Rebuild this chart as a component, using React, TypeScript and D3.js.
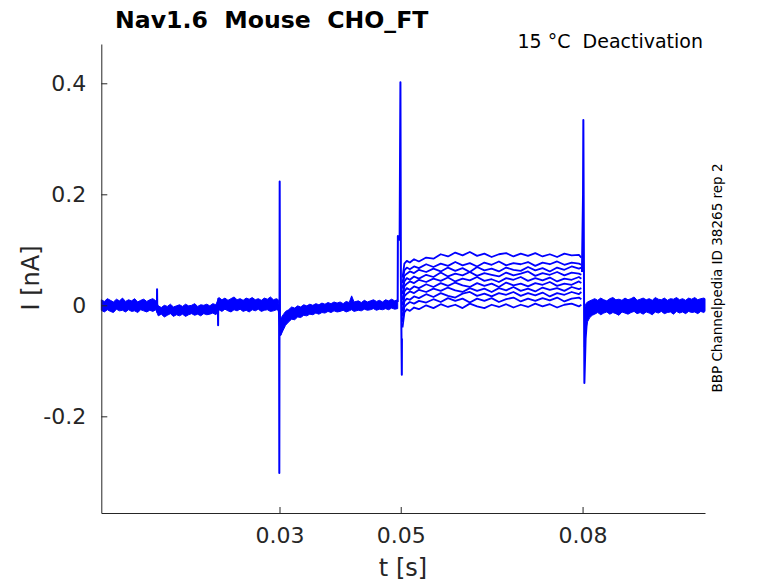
import React, { useEffect, useRef } from 'react';
import * as d3 from 'd3';

const W = 778;
const H = 583;
const X0 = 101.3;
const X1 = 705;
const Y0 = 44;
const Y1 = 513;
const BLUE = '#0000ff';
const INK = '#262626';
const FONT = '"DejaVu Sans", sans-serif';

const xTicks = [0.03, 0.05, 0.08];
const xTickLabels = ['0.03', '0.05', '0.08'];
const yTicks = [-0.2, 0, 0.2, 0.4];
const yTickLabels = ['-0.2', '0', '0.2', '0.4'];

// Noise band (envelope of all sweeps) before the 0.05 s step
const baseTimes = [
  0.0006, 0.0011, 0.0016, 0.0021, 0.0026, 0.0031, 0.0036, 0.0041, 0.0046, 0.0051, 0.0056, 0.0061,
  0.0066, 0.0071, 0.0076, 0.0081, 0.0086, 0.0091, 0.0096,
  0.0100, 0.0105, 0.0110, 0.0115, 0.0120, 0.0125, 0.0130, 0.0135, 0.0140, 0.0145, 0.0150, 0.0155,
  0.0160, 0.0165, 0.0170, 0.0175, 0.0180, 0.0185, 0.0190, 0.0195,
  0.0200, 0.0205, 0.0210, 0.0215, 0.0220, 0.0225, 0.0230, 0.0235, 0.0240, 0.0245, 0.0250, 0.0255,
  0.0260, 0.0265, 0.0270, 0.0275, 0.0280, 0.0285, 0.0290, 0.0295, 0.0298,
  0.0301, 0.0303, 0.0306, 0.0310, 0.0315, 0.0320, 0.0325, 0.0330, 0.0335, 0.0340, 0.0345, 0.0350,
  0.0355, 0.0360, 0.0365, 0.0370, 0.0375, 0.0380, 0.0385, 0.0390, 0.0395, 0.0400, 0.0405, 0.0410,
  0.0415, 0.0419, 0.0423, 0.0430, 0.0435, 0.0440, 0.0445, 0.0450, 0.0455, 0.0460, 0.0465, 0.0470,
  0.0475, 0.0480, 0.0485, 0.0490, 0.0495,
];
const baseUpper = [
  0.010, 0.007, 0.012, 0.009, 0.006, 0.011, 0.008, 0.013, 0.007, 0.010, 0.008, 0.012,
  0.006, 0.009, 0.011, 0.007, 0.010, 0.012, 0.008,
  -0.001, -0.004, 0.000, -0.002, 0.002, -0.003, -0.001, 0.001, -0.002, 0.002, -0.001, 0.000,
  0.003, -0.002, 0.001, 0.000, 0.002, -0.001, 0.003, 0.001,
  0.014, 0.010, 0.013, 0.009, 0.012, 0.015, 0.010, 0.012, 0.009, 0.013, 0.011, 0.014,
  0.010, 0.012, 0.009, 0.013, 0.011, 0.015, 0.010, 0.012, 0.010,
  -0.025, -0.022, -0.017, -0.011, -0.008, -0.003, -0.005, -0.001, -0.003, 0.001, -0.001, 0.002,
  0.000, 0.003, 0.001, 0.004, 0.002, 0.005, 0.003, 0.006, 0.004, 0.006, 0.003, 0.007,
  0.005, 0.017, 0.006, 0.008, 0.005, 0.009, 0.006, 0.008, 0.010, 0.007, 0.009, 0.006,
  0.010, 0.008, 0.011, 0.008, 0.010,
];
const baseLower = [
  -0.009, -0.012, -0.008, -0.011, -0.013, -0.007, -0.010, -0.009, -0.012, -0.008, -0.011, -0.010,
  -0.013, -0.008, -0.010, -0.012, -0.009, -0.011, -0.008,
  -0.019, -0.016, -0.021, -0.018, -0.015, -0.020, -0.017, -0.019, -0.016, -0.020, -0.017, -0.015,
  -0.018, -0.016, -0.019, -0.015, -0.017, -0.016, -0.014, -0.017,
  -0.008, -0.011, -0.007, -0.010, -0.012, -0.008, -0.010, -0.007, -0.011, -0.009, -0.012, -0.008,
  -0.010, -0.007, -0.011, -0.009, -0.008, -0.011, -0.010, -0.008, -0.009,
  -0.055, -0.052, -0.045, -0.036, -0.030, -0.025, -0.026, -0.021, -0.022, -0.018, -0.019, -0.016,
  -0.017, -0.014, -0.016, -0.013, -0.014, -0.011, -0.013, -0.010, -0.012, -0.011, -0.009, -0.012,
  -0.010, -0.008, -0.011, -0.009, -0.010, -0.007, -0.009, -0.008, -0.006, -0.009, -0.007, -0.008,
  -0.006, -0.008, -0.005, -0.007, -0.006,
];

// Noise band after the 0.08 s return
const tailTimes = [
  0.0803, 0.0805, 0.0808, 0.0812, 0.0816,
  0.0820, 0.0825, 0.0830, 0.0835, 0.0840, 0.0845, 0.0850, 0.0855, 0.0860, 0.0865, 0.0870, 0.0875,
  0.0880, 0.0885, 0.0890, 0.0895, 0.0900, 0.0905, 0.0910, 0.0915, 0.0920, 0.0925, 0.0930, 0.0935,
  0.0940, 0.0945, 0.0950, 0.0955, 0.0960, 0.0965, 0.0970, 0.0975, 0.0980, 0.0985, 0.0990, 0.0995,
  0.1000, 0.1002,
];
const tailUpper = [
  -0.010, 0.002, 0.006, 0.008, 0.010,
  0.012, 0.009, 0.013, 0.010, 0.008, 0.012, 0.014, 0.010, 0.011, 0.009, 0.013, 0.010,
  0.012, 0.015, 0.009, 0.011, 0.013, 0.010, 0.012, 0.009, 0.014, 0.011, 0.010, 0.013,
  0.009, 0.012, 0.011, 0.014, 0.010, 0.012, 0.009, 0.013, 0.011, 0.014, 0.010, 0.012,
  0.013, 0.012,
];
const tailLower = [
  -0.075, -0.045, -0.030, -0.022, -0.018,
  -0.016, -0.013, -0.017, -0.014, -0.012, -0.016, -0.013, -0.015, -0.018, -0.012, -0.014, -0.016,
  -0.013, -0.011, -0.015, -0.013, -0.016, -0.012, -0.014, -0.017, -0.012, -0.014, -0.011, -0.015,
  -0.013, -0.012, -0.016, -0.011, -0.014, -0.012, -0.015, -0.011, -0.013, -0.012, -0.015, -0.011,
  -0.013, -0.011,
];

// Capacitive / step artefacts
const spike1Times = [0.0097, 0.00978, 0.0098, 0.00984, 0.0099];
const spike1Values = [0.000, 0.004, 0.029, -0.012, -0.010];
const spike2Times = [0.0197, 0.01984, 0.01987, 0.0199, 0.0200];
const spike2Values = [-0.008, -0.010, -0.036, 0.012, 0.004];
const spike3Times = [0.0298, 0.02993, 0.02997, 0.03003, 0.03008, 0.0302];
const spike3Values = [0.002, 0.000, -0.302, 0.223, -0.030, -0.054];
const spike4Times = [0.0495, 0.04953, 0.04982, 0.04995, 0.05003, 0.05018, 0.0502];
const spike4Values = [0.006, 0.125, 0.118, 0.402, 0.050, -0.125, -0.060];
const spike5Times = [0.0799, 0.08008, 0.08013, 0.0803, 0.0805, 0.0807];
const spike5Values = [0.060, 0.200, 0.334, -0.140, -0.060, -0.030];

// Sweeps during the 0.05–0.08 s step
const stepTimes = [
  0.0503, 0.0506, 0.0510, 0.0515, 0.0522, 0.0530, 0.0542, 0.0554, 0.0566, 0.0578, 0.0590, 0.0602,
  0.0614, 0.0626, 0.0638, 0.0650, 0.0662, 0.0674, 0.0686, 0.0698, 0.0710, 0.0722, 0.0734, 0.0746,
  0.0758, 0.0770, 0.0782, 0.0794, 0.0798,
];
const sweep1 = [
  0.050, 0.075, 0.080, 0.077, 0.083, 0.079, 0.086, 0.084, 0.092, 0.088, 0.095, 0.090,
  0.096, 0.089, 0.093, 0.087, 0.092, 0.094, 0.088, 0.093, 0.089, 0.094, 0.088, 0.092,
  0.087, 0.093, 0.090, 0.091, 0.086,
];
const sweep2 = [
  0.040, 0.063, 0.068, 0.065, 0.070, 0.067, 0.074, 0.069, 0.075, 0.071, 0.078, 0.072,
  0.076, 0.070, 0.077, 0.073, 0.079, 0.072, 0.076, 0.074, 0.078, 0.071, 0.077, 0.074,
  0.079, 0.073, 0.077, 0.075, 0.073,
];
const sweep3 = [
  0.030, 0.053, 0.057, 0.061, 0.058, 0.064, 0.060, 0.066, 0.061, 0.068, 0.062, 0.067,
  0.060, 0.069, 0.063, 0.066, 0.061, 0.068, 0.064, 0.062, 0.069, 0.063, 0.067, 0.061,
  0.068, 0.064, 0.070, 0.066, 0.068,
];
const sweep4 = [
  0.020, 0.043, 0.049, 0.046, 0.052, 0.048, 0.055, 0.051, 0.059, 0.052, 0.057, 0.054,
  0.060, 0.053, 0.058, 0.055, 0.052, 0.059, 0.054, 0.057, 0.061, 0.053, 0.058, 0.055,
  0.060, 0.054, 0.059, 0.057, 0.055,
];
const sweep5 = [
  0.010, 0.034, 0.039, 0.043, 0.040, 0.046, 0.042, 0.048, 0.044, 0.050, 0.043, 0.048,
  0.045, 0.051, 0.044, 0.047, 0.042, 0.049, 0.046, 0.051, 0.044, 0.049, 0.045, 0.050,
  0.043, 0.048, 0.046, 0.051, 0.048,
];
const sweep6 = [
  0.000, 0.025, 0.031, 0.028, 0.034, 0.031, 0.038, 0.033, 0.040, 0.035, 0.041, 0.036,
  0.033, 0.040, 0.035, 0.039, 0.033, 0.041, 0.036, 0.039, 0.034, 0.040, 0.037, 0.042,
  0.035, 0.039, 0.037, 0.043, 0.040,
];
const sweep7 = [
  -0.010, 0.016, 0.021, 0.025, 0.022, 0.028, 0.024, 0.030, 0.026, 0.032, 0.027, 0.024,
  0.031, 0.026, 0.030, 0.024, 0.031, 0.027, 0.033, 0.026, 0.030, 0.025, 0.032, 0.028,
  0.031, 0.026, 0.033, 0.029, 0.031,
];
const sweep8 = [
  -0.020, 0.007, 0.012, 0.010, 0.016, 0.013, 0.020, 0.015, 0.022, 0.017, 0.014, 0.021,
  0.024, 0.017, 0.021, 0.016, 0.022, 0.019, 0.024, 0.017, 0.022, 0.018, 0.023, 0.016,
  0.022, 0.019, 0.024, 0.020, 0.024,
];
const sweep9 = [
  -0.030, -0.003, 0.002, 0.006, 0.003, 0.008, 0.005, 0.011, 0.006, 0.013, 0.008, 0.012,
  0.005, 0.012, 0.008, 0.013, 0.006, 0.011, 0.014, 0.007, 0.012, 0.008, 0.013, 0.009,
  0.014, 0.007, 0.012, 0.014, 0.011,
];
const sweep10 = [
  -0.040, -0.013, -0.007, -0.010, -0.004, -0.007, 0.000, -0.005, 0.002, -0.003, 0.001, -0.005,
  0.003, -0.002, -0.005, 0.001, -0.003, 0.002, -0.004, 0.001, -0.003, 0.003, -0.002, 0.002,
  -0.004, 0.001, 0.003, -0.002, 0.001,
];
const sweeps = [sweep1, sweep2, sweep3, sweep4, sweep5, sweep6, sweep7, sweep8, sweep9, sweep10];

const spikes: [number[], number[]][] = [
  [spike1Times, spike1Values],
  [spike2Times, spike2Values],
  [spike3Times, spike3Values],
  [spike4Times, spike4Values],
  [spike5Times, spike5Values],
];

export default function App() {
  const xAxisRef = useRef<SVGGElement>(null);
  const yAxisRef = useRef<SVGGElement>(null);

  const x = d3.scaleLinear().domain([0.0006, 0.1002]).range([X0, X1]);
  const y = d3.scaleLinear().domain([-0.3742, 0.4708]).range([Y1, Y0]);

  const line = d3
    .line<[number, number]>()
    .x((d) => x(d[0]))
    .y((d) => y(d[1]));
  const area = d3
    .area<[number, number, number]>()
    .x((d) => x(d[0]))
    .y0((d) => y(d[2]))
    .y1((d) => y(d[1]));

  const baseBand = d3.zip(baseTimes, baseUpper, baseLower) as [number, number, number][];
  const tailBand = d3.zip(tailTimes, tailUpper, tailLower) as [number, number, number][];

  useEffect(() => {
    const gx = d3.select(xAxisRef.current!);
    gx.call(
      d3
        .axisBottom(x)
        .tickValues(xTicks)
        .tickFormat((_d, i) => xTickLabels[i])
        .tickSizeInner(-6)
        .tickSizeOuter(0)
        .tickPadding(14)
    );
    const gy = d3.select(yAxisRef.current!);
    gy.call(
      d3
        .axisLeft(y)
        .tickValues(yTicks)
        .tickFormat((_d, i) => yTickLabels[i])
        .tickSizeInner(-6)
        .tickSizeOuter(0)
        .tickPadding(15)
    );
    [gx, gy].forEach((g) => {
      g.attr('font-family', FONT).attr('font-size', 22);
      g.select('.domain').attr('stroke', INK).attr('stroke-width', 1);
      g.selectAll('.tick line').attr('stroke', INK).attr('stroke-width', 1);
      g.selectAll('.tick text').attr('fill', INK);
    });
  }, []);

  return (
    <svg
      width={W}
      height={H}
      style={{ position: 'absolute', left: 0, top: 0, background: '#fff' }}
      fontFamily={FONT}
    >
      <rect x={0} y={0} width={W} height={H} fill="#fff" />
      <g>
        <path d={area(baseBand) || ''} fill={BLUE} stroke={BLUE} strokeWidth={1} />
        <path d={area(tailBand) || ''} fill={BLUE} stroke={BLUE} strokeWidth={1} />
        {sweeps.map((s, i) => (
          <path
            key={i}
            d={line(d3.zip(stepTimes, s) as [number, number][]) || ''}
            fill="none"
            stroke={BLUE}
            strokeWidth={1.8}
            strokeLinejoin="round"
          />
        ))}
        {spikes.map(([t, v], i) => (
          <path
            key={'s' + i}
            d={line(d3.zip(t, v) as [number, number][]) || ''}
            fill="none"
            stroke={BLUE}
            strokeWidth={2}
            strokeLinejoin="round"
          />
        ))}
      </g>
      <g ref={xAxisRef} transform={`translate(0,${Y1})`} />
      <g ref={yAxisRef} transform={`translate(${X0},0)`} />
      <text
        x={115}
        y={28}
        fontSize={23.6}
        fontWeight="bold"
        fill="#000"
        style={{ whiteSpace: 'pre' }}
      >
        {'Nav1.6  Mouse  CHO_FT'}
      </text>
      <text x={703} y={48} fontSize={19} textAnchor="end" fill="#000" style={{ whiteSpace: 'pre' }}>
        {'15 °C  Deactivation'}
      </text>
      <text
        transform="translate(722,278) rotate(-90)"
        fontSize={13.5}
        textAnchor="middle"
        fill="#000"
      >
        BBP Channelpedia ID 38265 rep 2
      </text>
      <text transform="translate(39,278) rotate(-90)" fontSize={24} textAnchor="middle" fill={INK}>
        I [nA]
      </text>
      <text x={403} y={576} fontSize={24} textAnchor="middle" fill={INK}>
        t [s]
      </text>
    </svg>
  );
}
